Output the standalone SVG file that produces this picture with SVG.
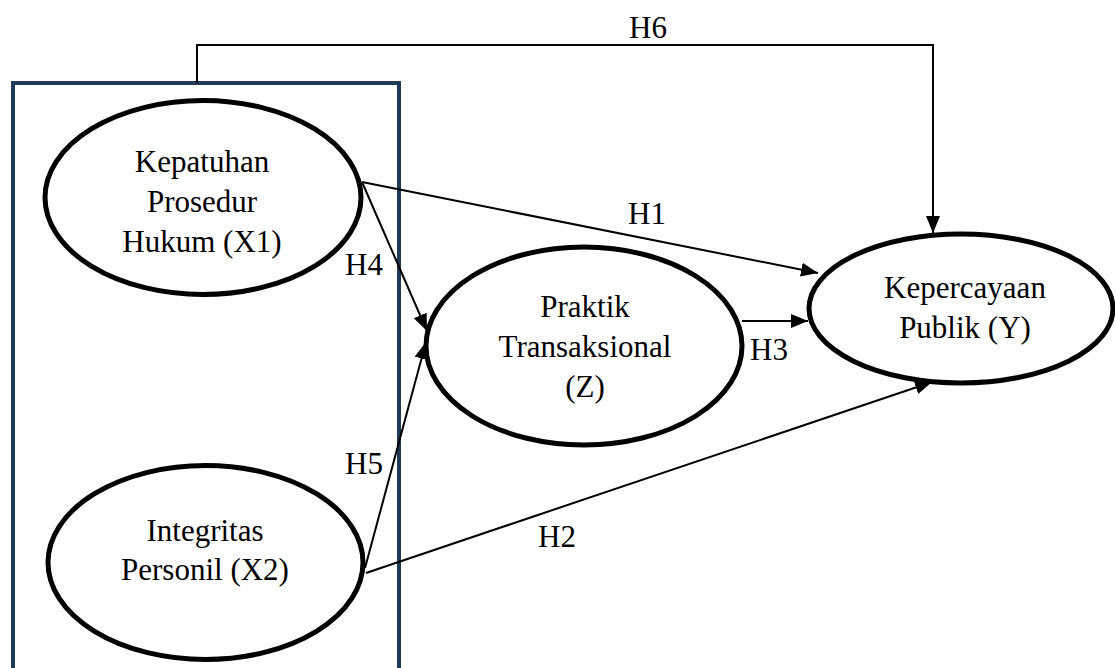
<svg xmlns="http://www.w3.org/2000/svg" width="1115" height="668" viewBox="0 0 1115 668">
<defs>
<style>
.node{fill:#fff;stroke:#000;stroke-width:5}
.lbl{font-family:'Liberation Serif','Times New Roman',serif;font-size:31px;fill:#000;text-anchor:middle}
.hl{font-family:'Liberation Serif','Times New Roman',serif;font-size:31px;fill:#000}
.conn{fill:none;stroke:#000;stroke-width:2}
</style>
<marker id="arr" markerUnits="userSpaceOnUse" markerWidth="20" markerHeight="16" refX="17" refY="7" orient="auto">
<path d="M0,0 L17,7 L0,14 z" fill="#000"/>
</marker>
</defs>
<rect width="1115" height="668" fill="#fff"/>
<g id="box">
<rect x="13" y="83" width="386" height="640" fill="none" stroke="#1f3a56" stroke-width="4"/>
</g>
<g id="connectors">
<path class="conn" d="M197,83 V45 H933 V233" marker-end="url(#arr)"/>
<line class="conn" x1="362" y1="182" x2="818" y2="273" marker-end="url(#arr)"/>
<line class="conn" x1="362" y1="182" x2="427" y2="331" marker-end="url(#arr)"/>
<line class="conn" x1="365" y1="568" x2="426" y2="342" marker-end="url(#arr)"/>
<line class="conn" x1="366" y1="573" x2="932" y2="382" marker-end="url(#arr)"/>
<line class="conn" x1="742" y1="321" x2="808" y2="321" marker-end="url(#arr)"/>
<text class="hl" x="629" y="38">H6</text>
<text class="hl" x="628" y="224">H1</text>
<text class="hl" x="345" y="275">H4</text>
<text class="hl" x="345" y="474">H5</text>
<text class="hl" x="750" y="360">H3</text>
<text class="hl" x="538" y="547">H2</text>
</g>
<g id="x1">
<ellipse class="node" cx="203" cy="197.5" rx="158" ry="97"/>
<text class="lbl" x="202" y="172">Kepatuhan</text>
<text class="lbl" x="202" y="212">Prosedur</text>
<text class="lbl" x="202" y="252">Hukum (X1)</text>
</g>
<g id="x2">
<ellipse class="node" cx="205.5" cy="562.5" rx="157.5" ry="97"/>
<text class="lbl" x="205" y="541">Integritas</text>
<text class="lbl" x="205" y="580">Personil (X2)</text>
</g>
<g id="z">
<ellipse class="node" cx="584" cy="346" rx="158" ry="99"/>
<text class="lbl" x="585" y="317">Praktik</text>
<text class="lbl" x="585" y="357">Transaksional</text>
<text class="lbl" x="585" y="397">(Z)</text>
</g>
<g id="y">
<ellipse class="node" cx="961" cy="308.5" rx="152" ry="74.5"/>
<text class="lbl" x="965" y="298">Kepercayaan</text>
<text class="lbl" x="965" y="338">Publik (Y)</text>
</g>
</svg>
